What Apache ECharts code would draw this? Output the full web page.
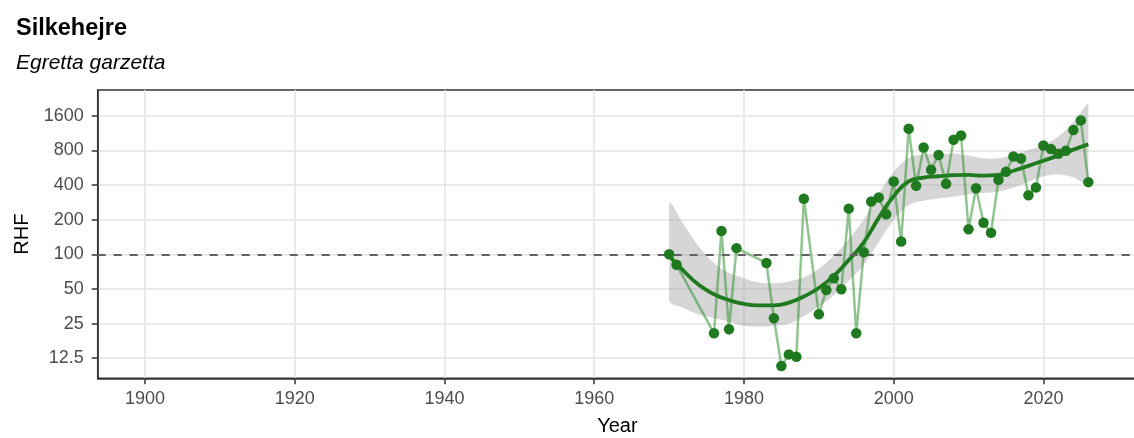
<!DOCTYPE html>
<html>
<head>
<meta charset="utf-8">
<title>Silkehejre</title>
<script src="https://cdn.jsdelivr.net/npm/echarts@6/dist/echarts.min.js"></script>
<style>
html, body { margin: 0; padding: 0; background: #fff; }
#chart { width: 1134px; height: 438px; }
</style>
</head>
<body>
<div id="chart"></div>
<script>
// yearly index values (RHF)
var years = [1970, 1971, 1976, 1977, 1978, 1979, 1983, 1984, 1985, 1986, 1987, 1988,
	1990, 1991, 1992, 1993, 1994, 1995, 1996, 1997, 1998, 1999, 2000, 2001, 2002,
	2003, 2004, 2005, 2006, 2007, 2008, 2009, 2010, 2011, 2012, 2013, 2014, 2015,
	2016, 2017, 2018, 2019, 2020, 2021, 2022, 2023, 2024, 2025, 2026];
var rhf = [100, 81, 20.6, 159, 22.3, 113, 84, 27.8, 10.7, 13.5, 12.9, 304,
	30.1, 48.9, 61.8, 49.6, 249, 20.6, 104, 287, 311, 223, 428, 129, 1231,
	393, 846, 541, 727, 409, 987, 1076, 165, 375, 188, 154, 443, 520,
	706, 679, 326, 380, 880, 820, 745, 792, 1198, 1455, 423];

// smoother and its confidence band, read every 2 years
var smoothYears = [1970, 1972, 1974, 1976, 1978, 1980, 1982, 1984, 1986, 1988, 1990,
	1992, 1994, 1996, 1998, 2000, 2002, 2004, 2006, 2008, 2010, 2012, 2014, 2016,
	2018, 2020, 2022, 2024, 2026];
var smoothFit = [97, 71, 54, 45, 40, 37, 36, 36, 38, 43, 51,
	65, 89, 127, 207, 320, 429, 463, 476, 486, 489, 482, 489, 531,
	586, 650, 721, 811, 900];
var smoothLower = [40, 34, 30, 28, 26, 24, 23.5, 24, 25, 29, 35,
	44, 59, 81, 127, 197, 268, 291, 305, 316, 332, 341, 351, 381,
	426, 476, 492, 466, 406];
var smoothUpper = [275, 180, 116, 84, 69, 62, 57, 56, 58, 63, 75,
	97, 135, 200, 336, 521, 687, 736, 741, 746, 721, 682, 682, 741,
	806, 888, 1056, 1412, 2050];

var xTicks = [1900, 1920, 1940, 1960, 1980, 2000, 2020];
var yTicks = [12.5, 25, 50, 100, 200, 400, 800, 1600];
var refLevel = 100;

var FONT = 'Liberation Sans, Arial, sans-serif';
var GREEN = '#1f7a1f';

function lg(v) {
	return Math.log2(v);
}

function pairs(xs, vs) {
	return xs.map(function(x, i) {
		return [x, lg(vs[i])];
	});
}

// whole confidence band as one polygon, drawn from the first data item
function renderBand(params, api) {
	if (params.dataIndex !== 0) {
		return null;
	}
	var pts = [];
	var i;
	for (i = 0; i < smoothYears.length; i++) {
		pts.push(api.coord([smoothYears[i], lg(smoothUpper[i])]));
	}
	for (i = smoothYears.length - 1; i >= 0; i--) {
		pts.push(api.coord([smoothYears[i], lg(smoothLower[i])]));
	}
	var lo = [Infinity, Infinity], hi = [-Infinity, -Infinity];
	pts.forEach(function(p) {
		lo[0] = Math.min(lo[0], p[0]);
		lo[1] = Math.min(lo[1], p[1]);
		hi[0] = Math.max(hi[0], p[0]);
		hi[1] = Math.max(hi[1], p[1]);
	});
	return {
		type: 'polygon',
		shape: { points: pts, smooth: 0.35, smoothConstraint: [lo, hi] },
		style: { fill: 'rgba(153,153,153,0.4)', stroke: null },
		silent: true
	};
}

var chart = echarts.init(document.getElementById('chart'), null, { renderer: 'canvas' });

var option = {
	animation: false,
	backgroundColor: '#fff',
	title: [{
		text: 'Silkehejre',
		left: 16,
		top: 17,
		padding: 0,
		textStyle: { fontFamily: FONT, fontSize: 23.5, fontWeight: 'bold', color: '#000' }
	}, {
		text: 'Egretta garzetta',
		left: 16,
		top: 52.5,
		padding: 0,
		textStyle: { fontFamily: FONT, fontSize: 21, fontWeight: 'normal', fontStyle: 'italic', color: '#000' }
	}],
	grid: {
		left: 97.7,
		right: -3,
		top: 90,
		bottom: 59.7,
		show: true,
		borderColor: '#333',
		borderWidth: 1.5,
		containLabel: false,
		outerBoundsMode: 'none'
	},
	xAxis: {
		type: 'value',
		min: 1893.68,
		max: 2032.5,
		name: 'Year',
		nameLocation: 'middle',
		nameGap: 38,
		nameTextStyle: { fontFamily: FONT, fontSize: 20, color: '#000' },
		axisLine: { show: true, lineStyle: { color: '#333', width: 1.5 } },
		axisTick: { show: true, customValues: xTicks, length: 6, lineStyle: { color: '#333', width: 1.5 } },
		axisLabel: {
			customValues: xTicks,
			margin: 12,
			fontFamily: FONT,
			fontSize: 18,
			color: '#4d4d4d',
			formatter: function(v) {
				return String(v);
			}
		},
		splitLine: { show: true, lineStyle: { color: '#e3e3e3', width: 1.5 } }
	},
	yAxis: {
		type: 'value',
		min: lg(8.37),
		max: lg(2672),
		name: 'RHF',
		nameLocation: 'middle',
		nameGap: 53.5,
		nameRotate: 90,
		nameTextStyle: { fontFamily: FONT, fontSize: 20, color: '#000' },
		axisLine: { show: true, lineStyle: { color: '#333', width: 1.5 } },
		axisTick: { show: true, customValues: yTicks.map(lg), length: 6, lineStyle: { color: '#333', width: 1.5 } },
		axisLabel: {
			customValues: yTicks.map(lg),
			margin: 14,
			fontFamily: FONT,
			fontSize: 18,
			color: '#4d4d4d',
			formatter: function(v) {
				return String(Math.round(Math.pow(2, v) * 10) / 10);
			}
		},
		splitLine: { show: true, lineStyle: { color: '#e3e3e3', width: 1.5 } }
	},
	series: [{
		name: 'band',
		type: 'custom',
		renderItem: renderBand,
		data: smoothYears.map(function(x, i) {
			return [x, lg(smoothLower[i]), lg(smoothUpper[i])];
		}),
		encode: { x: 0, y: [1, 2] },
		clip: true,
		silent: true,
		z: 1,
		markLine: {
			silent: true,
			symbol: 'none',
			label: { show: false },
			lineStyle: { color: '#606060', width: 2, type: [8, 8] },
			data: [{ yAxis: lg(refLevel) }]
		}
	}, {
		name: 'smooth',
		type: 'line',
		data: pairs(smoothYears, smoothFit),
		smooth: true,
		symbol: 'none',
		lineStyle: { color: GREEN, width: 3.8 },
		z: 3
	}, {
		name: 'RHF line',
		type: 'line',
		data: pairs(years, rhf),
		symbol: 'none',
		lineStyle: { color: 'rgba(34,139,34,0.5)', width: 2.5 },
		z: 4
	}, {
		name: 'RHF',
		type: 'scatter',
		data: pairs(years, rhf),
		symbolSize: 10.5,
		itemStyle: { color: GREEN, opacity: 1 },
		z: 5
	}]
};
chart.setOption(option);
</script>
</body>
</html>
